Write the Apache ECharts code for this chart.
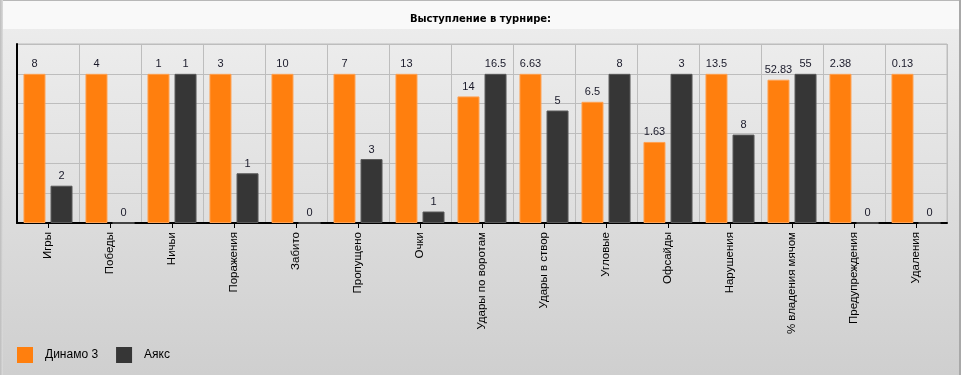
<!DOCTYPE html>
<html><head><meta charset="utf-8">
<script src="https://cdn.jsdelivr.net/npm/echarts@6/dist/echarts.min.js"></script>
<style>html,body{margin:0;padding:0;}#c{width:961px;height:375px;}</style>
</head><body><div id="c"></div>
<script>
const categories = ['Игры','Победы','Ничьи','Поражения','Забито','Пропущено','Очки','Удары по воротам','Удары в створ','Угловые','Офсайды','Нарушения','% владения мячом','Предупреждения','Удаления'];
const dinamo = [8,4,1,3,10,7,13,14,6.63,6.5,1.63,13.5,52.83,2.38,0.13];
const ajax = [2,0,1,1,0,3,1,16.5,5,8,3,8,55,0,0];
const seriesNames = ['Динамо 3','Аякс'];
const titleText = 'Выступление в турнире:';

const maxes = categories.map((_, i) => Math.max(dinamo[i], ajax[i]) || 1);
const norm = arr => arr.map((v, i) => ({value: v / maxes[i] * 100, raw: v}));

const chart = echarts.init(document.getElementById('c'), null, {renderer: 'canvas'});
const labelCfg = {
  show: true, position: 'top', distance: 4, color: '#1a1a2a', fontSize: 11,
  fontFamily: 'Liberation Sans, Arial, sans-serif',
  formatter: p => String(p.data.raw)
};
chart.setOption({
  animation: false,
  backgroundColor: {type: 'linear', x: 0, y: 0, x2: 0, y2: 1, colorStops: [
    {offset: 0, color: '#eeeeee'}, {offset: 1, color: '#cfcfcf'}]},
  graphic: [
    {type: 'rect', shape: {x: 0, y: 0, width: 961, height: 29}, style: {fill: '#f9f9f9'}, z: -1},
    {type: 'rect', shape: {x: 0, y: 0, width: 961, height: 1}, style: {fill: '#b8b8b8'}, z: 0},
    {type: 'rect', shape: {x: 0, y: 0, width: 3, height: 375}, style: {fill: {type: 'linear', x: 0, y: 0, x2: 1, y2: 0, colorStops: [{offset: 0, color: '#bdbdbd'}, {offset: 1, color: '#dcdcdc'}]}}, z: 0},
    {type: 'rect', shape: {x: 959, y: 0, width: 2, height: 375}, style: {fill: '#a8a8a8'}, z: 0}
  ],
  title: {
    text: titleText, left: 'center', top: 9,
    textStyle: {fontSize: 10, fontWeight: 'bold', color: '#000', fontFamily: 'DejaVu Sans, sans-serif'}
  },
  legend: {
    left: 12, top: 342, itemWidth: 16, itemHeight: 16, itemGap: 18,
    icon: 'rect',
    itemStyle: {borderWidth: 0},
    textStyle: {fontSize: 12, color: '#000', fontFamily: 'Liberation Sans, Arial, sans-serif', padding: [0, 0, 0, 7]}
  },
  grid: {
    left: 17, right: 14, top: 44, bottom: 152, show: true,
    backgroundColor: {type: 'linear', x: 0, y: 0, x2: 0, y2: 1, colorStops: [
      {offset: 0, color: '#ececec'}, {offset: 1, color: '#dedede'}]},
    borderColor: '#bdbdbd', borderWidth: 1
  },
  xAxis: {
    type: 'category', data: categories,
    axisLine: {show: true, lineStyle: {color: '#000', width: 2}},
    axisTick: {show: true, alignWithLabel: true, length: 5, lineStyle: {color: '#000', width: 1}},
    splitLine: {show: true, lineStyle: {color: '#bdbdbd', width: 1}},
    axisLabel: {rotate: 90, margin: 9, fontSize: 11.5, color: '#000', interval: 0,
      fontFamily: 'Liberation Sans, Arial, sans-serif'}
  },
  yAxis: {
    type: 'value', min: 0, max: 120, interval: 20,
    axisLine: {show: true, lineStyle: {color: '#000', width: 2}},
    axisTick: {show: false}, axisLabel: {show: false},
    splitLine: {show: true, lineStyle: {color: '#bdbdbd', width: 1}}
  },
  series: [
    {name: seriesNames[0], type: 'bar', data: norm(dinamo), barWidth: 22, barGap: '23%',
      itemStyle: {color: '#ff7f0e', borderColor: '#ffa050', borderWidth: 1}, label: labelCfg},
    {name: seriesNames[1], type: 'bar', data: norm(ajax), barWidth: 22,
      itemStyle: {color: '#363636', borderColor: '#5a5a5a', borderWidth: 1}, label: labelCfg}
  ]
});
</script></body></html>
